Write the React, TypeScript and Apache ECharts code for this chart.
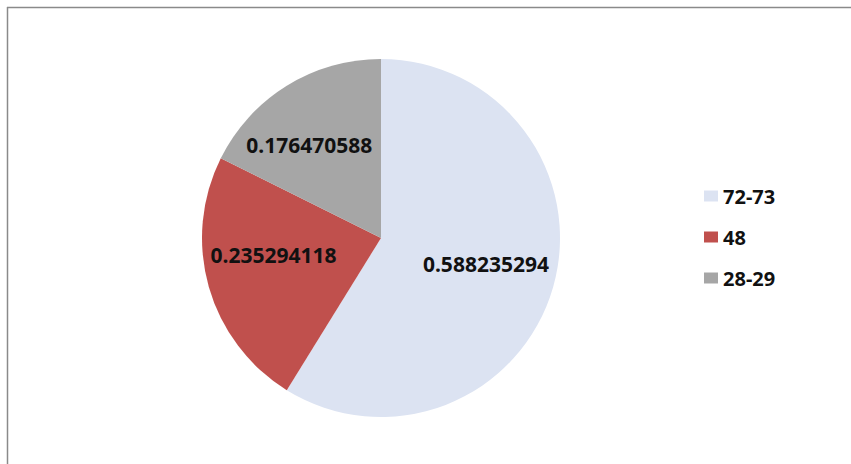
import React, { useEffect, useRef } from "react";
import * as echarts from "echarts";

const categories = ["72-73", "48", "28-29"];
const values = [0.588235294, 0.235294118, 0.176470588];
const colors = ["#DCE3F2", "#C0504D", "#A6A6A6"];
const labelShift = [
  [16, 1],
  [-18.5, -8.5],
  [-23, -14],
];

export default function App() {
  const ref = useRef<HTMLDivElement>(null);
  useEffect(() => {
    if (!ref.current) return;
    const chart = echarts.init(ref.current, undefined, { renderer: "svg" });
    chart.setOption({
      animation: false,
      backgroundColor: "#ffffff",
      legend: {
        orient: "vertical",
        left: 699,
        top: 181,
        itemWidth: 14,
        itemHeight: 11,
        itemGap: 21,
        icon: "rect",
        data: categories,
        textStyle: {
          fontFamily: "Noto Sans",
          fontWeight: "bold",
          fontSize: 20,
          color: "#111",
          lineHeight: 18,
          padding: [0, 0, 0, 0],
        },
      },
      graphic: [
        { type: "line", shape: { x1: 7, y1: 7.5, x2: 851, y2: 7.5 }, style: { stroke: "#8a8a8a", lineWidth: 1.5 } },
        { type: "line", shape: { x1: 7.5, y1: 7, x2: 7.5, y2: 464 }, style: { stroke: "#8a8a8a", lineWidth: 1.5 } },
      ],
      series: [
        {
          type: "pie",
          center: [381, 238],
          radius: 179,
          startAngle: 90,
          clockwise: true,
          label: {
            show: true,
            position: "inside",
            formatter: (p: any) => String(p.value),
            fontFamily: "Noto Sans",
            fontWeight: "bold",
            fontSize: 21,
            color: "#111",
          },
          labelLayout: (p: any) => ({ dx: labelShift[p.dataIndex][0], dy: labelShift[p.dataIndex][1] }),
          labelLine: { show: false },
          emphasis: { disabled: true },
          data: categories.map((c, i) => ({ name: c, value: values[i], itemStyle: { color: colors[i] } })),
        },
      ],
    });
    return () => chart.dispose();
  }, []);
  return <div ref={ref} style={{ position: "fixed", left: 0, top: 0, width: 851, height: 464 }} />;
}
